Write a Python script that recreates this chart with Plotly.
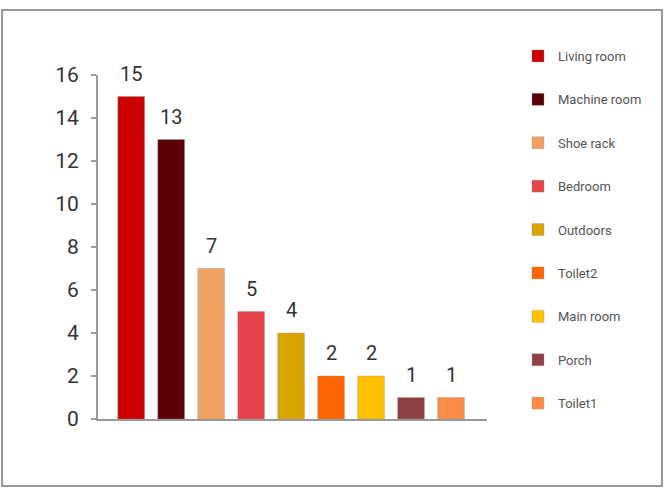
import plotly.graph_objects as go

categories = ["Living room", "Machine room", "Shoe rack", "Bedroom", "Outdoors",
              "Toilet2", "Main room", "Porch", "Toilet1"]
values = [15, 13, 7, 5, 4, 2, 2, 1, 1]
colors = ["#CC0000", "#5C0008", "#F0A060", "#E54349", "#D9A400",
          "#FF6600", "#FFC000", "#8E4044", "#FB8C45"]
y_ticks = [0, 2, 4, 6, 8, 10, 12, 14, 16]

L, R, T, B = 98, 178, 75, 76
W, H = 665, 495
pw, ph = W - L - R, H - T - B

fig = go.Figure()
for i, (c, v, col) in enumerate(zip(categories, values, colors)):
    fig.add_trace(go.Bar(
        x=[c], y=[v], name=c, legendgroup=c,
        marker=dict(color=col, line=dict(color="rgba(150,150,150,0.35)", width=1)),
        width=0.67,
    ))
    fig.add_annotation(x=c, y=v, text=str(v), showarrow=False,
                       yanchor="bottom", yshift=9,
                       font=dict(size=20, color="#333333", family="Roboto"))

def px_x(p):
    return (p - L) / pw

def px_y(p):
    return (H - p - B) / ph

fig.update_layout(
    width=W, height=H,
    margin=dict(l=L, r=R, t=T, b=B),
    paper_bgcolor="white", plot_bgcolor="white",
    barmode="overlay",
    showlegend=True,
    legend=dict(x=px_x(518), y=px_y(41), xanchor="left", yanchor="top",
                font=dict(size=13, color="#555555", family="Roboto"),
                tracegroupgap=23.5, bgcolor="rgba(0,0,0,0)", maxheight=490),
    xaxis=dict(range=[-0.83, 8.9], showticklabels=False, showgrid=False,
               showline=True, linecolor="#999999", linewidth=2, ticks="",
               zeroline=False),
    yaxis=dict(range=[0, 16], tickvals=y_ticks, showgrid=False,
               showline=True, linecolor="#999999", linewidth=2,
               ticks="outside", ticklen=5, tickcolor="#999999", tickwidth=2,
               tickfont=dict(size=21, color="#333333", family="Roboto"),
               ticklabelstandoff=8, zeroline=False),
    shapes=[dict(type="rect", xref="paper", yref="paper",
                 x0=px_x(2), x1=px_x(662), y0=px_y(486), y1=px_y(10),
                 line=dict(color="#999999", width=2), fillcolor="rgba(0,0,0,0)",
                 layer="above")],
)

fig.write_html("out.html")
